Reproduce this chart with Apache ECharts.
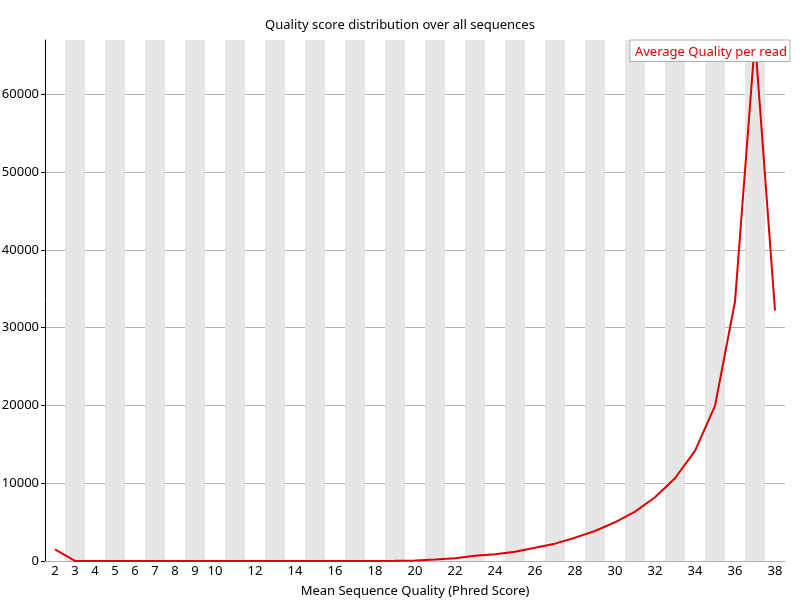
<!DOCTYPE html>
<html>
<head>
	<meta charset="utf-8">
	<title>chart</title>
	<style>body{margin:0;background:#fff;}</style>
</head>
<body>
<div id="graph" style="width:800px;height:600px;"></div>
<script type="text/javascript" src="https://cdn.jsdelivr.net/npm/echarts@6/dist/echarts.min.js"></script>
<script type="text/javascript">
// mean sequence quality (phred) on x, read counts on y
const qualities = ['2','3','4','5','6','7','8','9','10','11','12','13','14','15','16','17','18','19','20',
    '21','22','23','24','25','26','27','28','29','30','31','32','33','34','35','36','37','38'];
const readCounts = [1500, 10, 10, 10, 10, 10, 10, 10, 10, 10, 10, 10, 10, 10, 10, 10, 10, 20, 60,
    190, 350, 680, 860, 1200, 1710, 2230, 3000, 3860, 4980, 6350, 8200, 10640, 14160, 19950, 33370, 67000, 32210];
const yTicks = [0, 10000, 20000, 30000, 40000, 50000, 60000];
const seriesName = 'Average Quality per read';

let chart = echarts.init(document.getElementById('graph'));
const font = 'Noto Sans';

chart.setOption({
    animation: false,
    title: {
        text: 'Quality score distribution over all sequences',
        left: 'center',
        top: 14,
        textStyle: {fontFamily: font, fontSize: 13, fontWeight: 'normal', color: '#000'}
    },
    legend: {
        data: [seriesName],
        right: 10,
        top: 40,
        icon: 'none',
        itemWidth: 0,
        itemGap: 0,
        padding: [5, 3, 3, 0],
        borderColor: '#b0b0b0',
        borderWidth: 1,
        backgroundColor: '#fff',
        textStyle: {fontFamily: font, fontSize: 13, color: '#dd0000'}
    },
    grid: {left: 45, right: 15, top: 40, bottom: 39, outerBoundsMode: 'none'},
    xAxis: {
        type: 'category',
        data: qualities,
        boundaryGap: true,
        name: 'Mean Sequence Quality (Phred Score)',
        nameLocation: 'middle',
        nameGap: 24,
        nameTextStyle: {fontFamily: font, fontSize: 13, color: '#000'},
        axisLine: {lineStyle: {color: '#b0b0b0'}},
        axisTick: {show: false},
        axisLabel: {
            fontFamily: font, fontSize: 13, color: '#000', margin: 4,
            interval: function (index, value) {
                let q = parseInt(value);
                return q <= 10 || q % 2 === 0;
            }
        },
        splitLine: {show: false},
        splitArea: {show: true, interval: 0, areaStyle: {color: ['rgba(255,255,255,0)', '#e6e6e6']}}
    },
    yAxis: {
        type: 'value',
        min: 0,
        max: 67000,
        interval: 10000,
        axisLine: {show: true, lineStyle: {color: '#000'}},
        axisTick: {show: true, length: 4, customValues: yTicks, lineStyle: {color: '#000'}},
        axisLabel: {
            fontFamily: font, fontSize: 13, color: '#000', margin: 6, customValues: yTicks,
            formatter: function (v) { return String(v); }
        },
        splitLine: {show: true, lineStyle: {color: '#b0b0b0', width: 1}}
    },
    series: [
        {
            name: seriesName,
            type: 'line',
            data: readCounts,
            showSymbol: false,
            lineStyle: {color: '#dd0000', width: 2},
            itemStyle: {color: '#dd0000'}
        }
    ]
});
</script>
</body>
</html>
